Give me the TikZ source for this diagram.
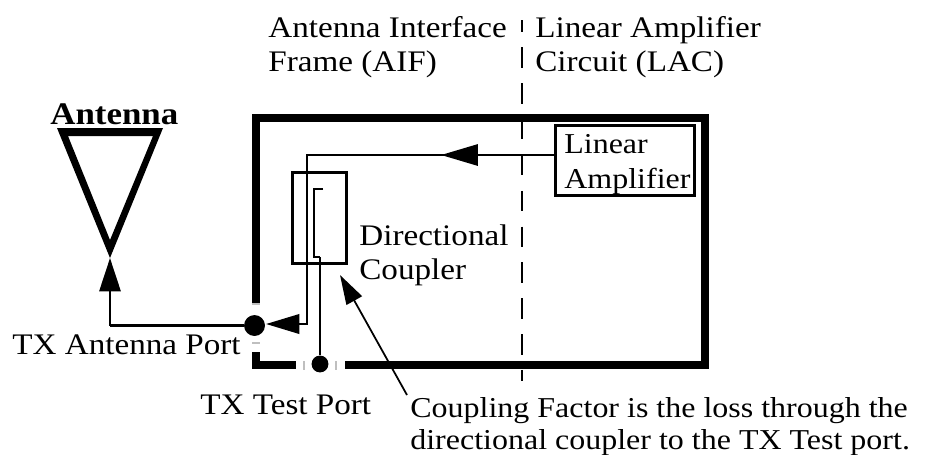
\documentclass[tikz,border=0pt]{standalone}
\usepackage{fontspec}
\setmainfont[FakeStretch=1.11]{Liberation Serif}
\usetikzlibrary{arrows.meta}

\begin{document}
\begin{tikzpicture}[x=0.02cm,y=-0.02cm,
  lbl/.style={inner sep=0pt,anchor=base west,font=\fontsize{16.4}{18}\selectfont},
  lblbig/.style={lbl,font=\fontsize{17}{18}\selectfont},
  frameline/.style={line width=4.8pt,line join=miter},
  wire/.style={line width=1.6pt},
  thinwire/.style={line width=1pt},
  port/.style={circle,fill=black,inner sep=0pt},
  tick/.style={line width=0.7pt,black!25}]

\useasboundingbox (0,0) rectangle (940,454);

% frame, open at the two ports
\coordinate (ftop) at (256,303);
\coordinate (fbot) at (256,352);
\coordinate (fend) at (296,365);
\coordinate (fstart) at (345,365);
\draw [frameline] (ftop)--(256,118)--(705,118)--(705,365)--(fstart);
\draw [frameline] (fbot)--(256,365)--(fend);
\draw [tick] (252,304)--(260,304);\draw [tick] (252,343)--(260,343);
\draw [tick] (304,361)--(304,370);\draw [tick] (336,361)--(336,370);

% divider
\coordinate (dtop) at (522,20);
\coordinate (dbot) at (522,381);
\draw [line width=1.3pt,dash pattern=on 11.6pt off 8.8pt,dash phase=4.8pt] (dtop)--(dbot);

% antenna
\fill [even odd rule] (57,128)--(163,128)--(110,258)--cycle (68,136)--(153,136)--(110,240)--cycle;
\coordinate (feed) at (110,258);

% ports
\node [port,minimum size=11.9pt] (antport) at (254.5,325.5) {};
\node [port,minimum size=9.6pt] (testport) at (320,364) {};

% amplifier
\node [draw,line width=1.7pt,minimum width=79pt,minimum height=40pt,inner sep=0pt] (amp) at (625,160.5) {};
\node [lbl] at (564,153) {Linear};
\node [lbl] at (564,188) {Amplifier};

% coupler
\node [draw,line width=1.7pt,minimum width=31pt,minimum height=52pt,inner sep=0pt] (coupler) at (319.5,218) {};
\coordinate (c1) at (323,189);
\coordinate (c2) at (314,189);
\coordinate (c3) at (314,257);
\coordinate (c4) at (320,257);
\draw [line width=1.1pt] (c1)--(c2)--(c3)--(c4);
\draw [line width=1.3pt] (c4)--(testport);

% main path
\coordinate (m1) at (307,155);
\coordinate (m2) at (307,324);
\coordinate (mtip) at (441,155);
\coordinate (ptip) at (266,324);
\draw [wire] (amp.west |- m1)--(m1)--(m2)--(295,324);
\draw [wire,-{Triangle[length=21pt,width=12pt]}] (amp.west |- m1)--(mtip);
\draw [wire,-{Triangle[length=19pt,width=11pt]}] (m2)--(ptip);
\coordinate (a1) at (110,325.5);
\draw [wire] (antport)--(a1);
\draw [wire,-{Triangle[length=19pt,width=12pt]}] (a1)--(feed);

% pointer
\coordinate (ltip) at (340,275);
\coordinate (lend) at (407,395);
\draw [thinwire,-{Triangle[length=16.7pt,width=10pt]}] (lend)--(ltip);

% labels
\node [lblbig] at (268,37) {Antenna Interface};
\node [lblbig] at (268,71.5) {Frame (AIF)};
\node [lblbig] at (535,37) {Linear Amplifier};
\node [lblbig] at (535,71.5) {Circuit (LAC)};
\node [lbl,font=\fontsize{17.9}{18}\selectfont\bfseries] at (50,124) {Antenna};
\node [lblbig] at (359,245) {Directional};
\node [lblbig] at (359,279) {Coupler};
\node [lblbig] at (12,354) {TX Antenna Port};
\node [lblbig] at (200,414) {TX Test Port};
\node [lbl] at (410,417) {Coupling Factor is the loss through the};
\node [lbl] at (410,449) {directional coupler to the TX Test port.};

\end{tikzpicture}
\end{document}
